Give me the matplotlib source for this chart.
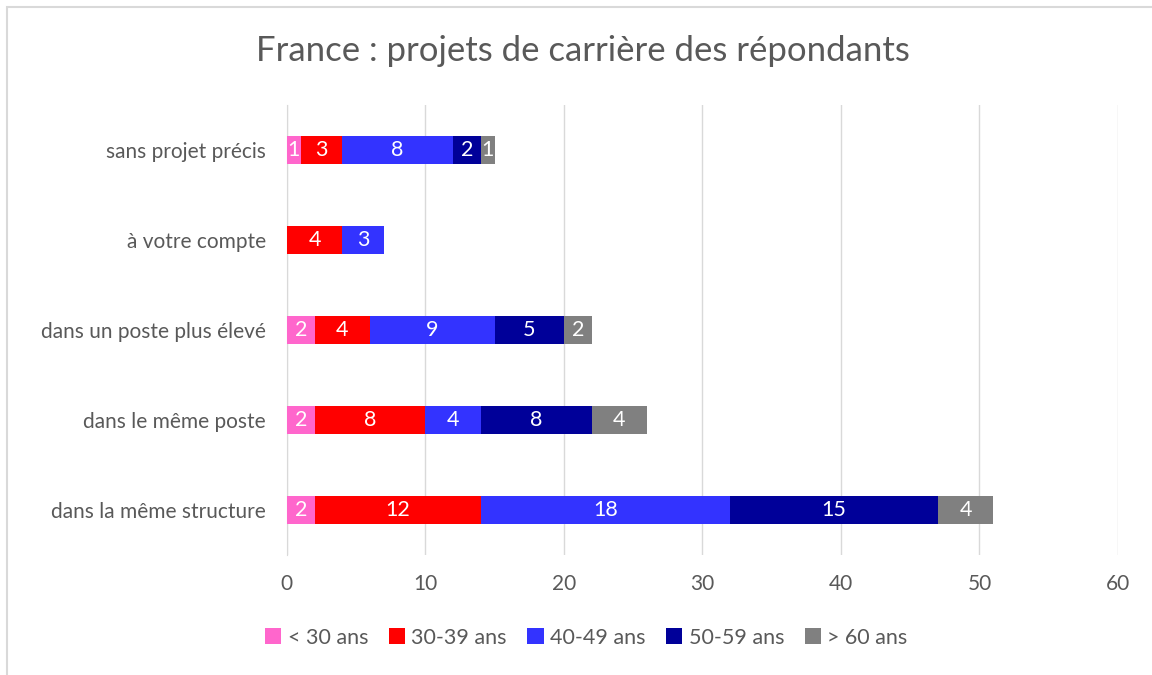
import matplotlib
matplotlib.use("Agg")
import matplotlib.pyplot as plt
from matplotlib.patches import Rectangle
import numpy as np

plt.rcParams.update({
    "font.family": ["Lato", "DejaVu Sans"],
    "font.size": 15,
})

categories = ["dans la même structure", "dans le même poste",
              "dans un poste plus élevé", "à votre compte", "sans projet précis"]
series = ["< 30 ans", "30-39 ans", "40-49 ans", "50-59 ans", "> 60 ans"]
under_30 = [2, 2, 2, 0, 1]
age_30_39 = [12, 8, 4, 4, 3]
age_40_49 = [18, 4, 9, 3, 8]
age_50_59 = [15, 8, 5, 0, 2]
over_60 = [4, 4, 2, 0, 1]
colors = ["#FF66CC", "#FF0000", "#3333FF", "#000099", "#808080"]

TEXT = "#595959"

fig = plt.figure(figsize=(11.52, 6.75), dpi=100)
ax = fig.add_axes([0.249, 0.178, 0.7215, 0.666])

y = np.arange(len(categories))
left = np.zeros(len(categories))
for name, vals, col in zip(series, [under_30, age_30_39, age_40_49, age_50_59, over_60], colors):
    vals = np.array(vals, dtype=float)
    ax.barh(y, vals, left=left, height=0.31, color=col, label=name, zorder=3)
    for yi, l, v in zip(y, left, vals):
        if v > 0:
            ax.text(l + v / 2, yi, f"{int(v)}", ha="center", va="center",
                    color="white", fontsize=15.5, zorder=4)
    left += vals

ax.set_xlim(0, 60)
ax.set_ylim(-0.5, len(categories) - 0.5)
ax.set_xticks(range(0, 61, 10))
ax.set_yticks(y)
ax.set_yticklabels(categories, fontsize=16)
ax.tick_params(length=0, colors=TEXT, labelsize=15)
ax.tick_params(axis="x", pad=14)
ax.tick_params(axis="y", pad=15)
ax.grid(axis="x", color="#D9D9D9", lw=1, zorder=0)
for s in ["top", "right", "bottom"]:
    ax.spines[s].set_visible(False)
ax.spines["left"].set_color("#D9D9D9")

fig.text(0.506, 0.925, "France : projets de carrière des répondants",
         ha="center", va="center", fontsize=25, color=TEXT)

fig.legend(loc="center", bbox_to_anchor=(0.509, 0.055), ncol=5, frameon=False,
           handlelength=0.75, handleheight=0.75, handletextpad=0.3,
           columnspacing=0.95, labelcolor=TEXT, fontsize=15.5)

fig.patches.append(Rectangle((0.006, -0.01), 1.0, 1.0, transform=fig.transFigure,
                             fill=False, edgecolor="#D9D9D9", lw=1.5))

fig.savefig("out.png", dpi=100)
